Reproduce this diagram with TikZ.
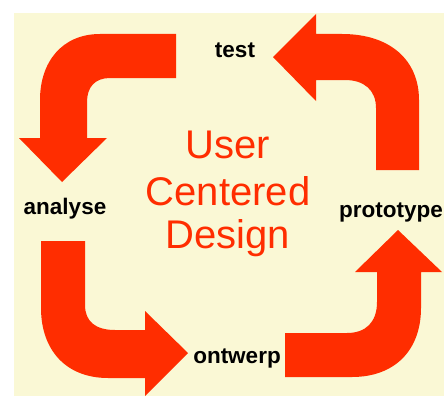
\documentclass[tikz,border=0pt]{standalone}
\usepackage{fontspec}
\setmainfont{Liberation Sans}
\usepackage{tikz}
\usetikzlibrary{backgrounds}
\definecolor{cream}{RGB}{250,248,213}
\definecolor{ucdred}{RGB}{255,45,0}
\tikzstyle{phase}=[anchor=base,inner sep=0mm,font=\fontsize{22.5}{27}\selectfont\bfseries]
\tikzstyle{title}=[anchor=base,inner sep=0mm,text=ucdred,font=\fontsize{40}{47}\selectfont]
\tikzstyle{bigarrow}=[fill=ucdred,draw=none]

\begin{document}
\begin{tikzpicture}[x=1pt,y=-1pt]
      \useasboundingbox (0,0) rectangle (444,396);
      \fill[white] (0,0) rectangle (444,396);
      \fill[cream] (14,13) rectangle (444,396);
      % the four phases
      \node[phase] at (235,57) (test) {test};
      \node[phase] at (65,214) (analyse) {analyse};
      \node[phase] at (237,363) (ontwerp) {ontwerp};
      \node[phase] at (391,217) (prototype) {prototype};
      % title in the middle
      \node[title] at (228,158) (user) {User};
      \node[title] at (228,205) (centered) {Centered};
      \node[title] at (228,248) (design) {Design};
      % test -> analyse
      \fill[bigarrow] (176,34) -- (100,34) .. controls (62,34) and (40,62) .. (40,100)
        -- (40,138) -- (19,138) -- (62,182) -- (107,138) -- (87,138) -- (87,102)
        .. controls (87,87) and (95,78) .. (110,78) -- (176,78) -- cycle;
      % analyse -> ontwerp
      \fill[bigarrow] (41,241) -- (85,241) -- (85,305) .. controls (85,321) and (95,330) .. (115,330)
        -- (145,330) -- (145,311) -- (188,353) -- (145,396) -- (145,378) -- (108,378)
        .. controls (66,378) and (41,350) .. (41,308) -- cycle;
      % ontwerp -> prototype
      \fill[bigarrow] (285,333) -- (347,333) .. controls (366,333) and (377,322) .. (377,302)
        -- (377,272) -- (355,272) -- (398,230) -- (442,272) -- (421,272) -- (421,308)
        .. controls (421,350) and (395,377) .. (352,377) -- (285,377) -- cycle;
      % prototype -> test
      \fill[bigarrow] (316,34) -- (342,34) .. controls (390,34) and (419,60) .. (419,100)
        -- (419,170) -- (376,170) -- (376,108) .. controls (376,90) and (364,80) .. (345,80)
        -- (316,80) -- (316,101) -- (273,57) -- (316,14) -- cycle;
    \end{tikzpicture}
\end{document}
